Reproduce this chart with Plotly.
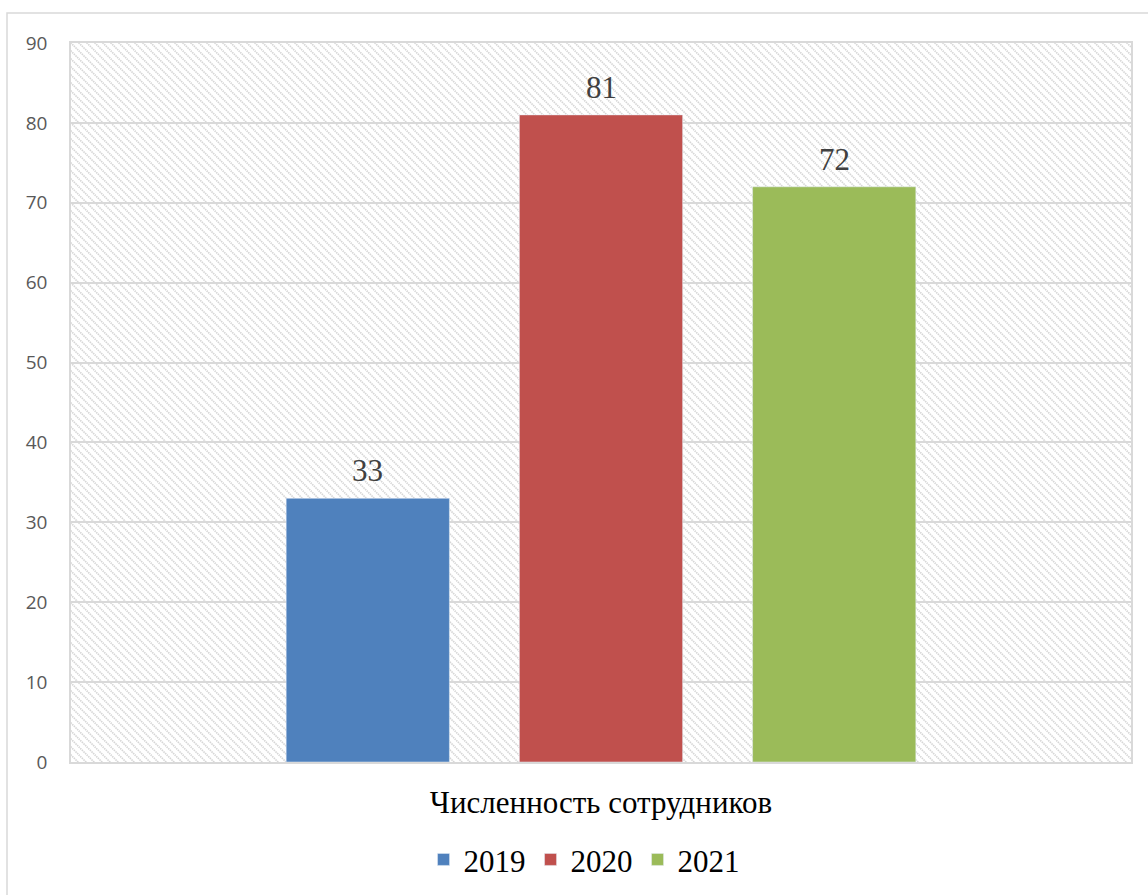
import base64
import plotly.graph_objects as go

category = ["Численность сотрудников"]
years = ["2019", "2020", "2021"]
values = [33, 81, 72]
colors = ["#4f81bd", "#c0504d", "#9bbb59"]
y_ticks = [0, 10, 20, 30, 40, 50, 60, 70, 80, 90]

W, H = 1148, 895
ml, mr, mt, mb = 71, 17, 43, 133
pw, ph = W - ml - mr, H - mt - mb
BARGAP = 0.34
slot_px = pw * (1 - BARGAP) / len(years)

svg = f'''<svg xmlns="http://www.w3.org/2000/svg" width="{pw}" height="{ph}" viewBox="0 0 {pw} {ph}" preserveAspectRatio="none">
<defs><pattern id="p" width="8" height="8" patternUnits="userSpaceOnUse">
<path d="M-2,-2 L10,10 M-2,6 L2,10 M6,-2 L10,2" stroke="#d6d6d6" stroke-width="1.7" stroke-dasharray="1.5,0.8"/>
</pattern></defs>
<rect width="{pw}" height="{ph}" fill="white"/>
<rect width="{pw}" height="{ph}" fill="url(#p)"/>
</svg>'''
uri = "data:image/svg+xml;base64," + base64.b64encode(svg.encode()).decode()

fig = go.Figure()
annotations = []
for i, (yr, v, c) in enumerate(zip(years, values, colors)):
    fig.add_trace(go.Bar(x=category, y=[v], name=yr, marker_color=c))
    annotations.append(dict(
        x=category[0], y=v, xref="x", yref="y", text=str(v), showarrow=False,
        xanchor="center", yanchor="bottom",
        xshift=(i - (len(years) - 1) / 2) * slot_px, yshift=8,
        font=dict(family="Liberation Serif", size=31, color="#404040"),
    ))

fig.update_layout(
    width=W, height=H,
    margin=dict(l=ml, r=mr, t=mt, b=mb, autoexpand=False),
    paper_bgcolor="white", plot_bgcolor="rgba(0,0,0,0)",
    barmode="group", bargap=BARGAP, bargroupgap=0.3,
    showlegend=True,
    legend=dict(orientation="h", x=0.484, xanchor="center", y=-0.136, yanchor="middle",
                font=dict(family="Liberation Serif", size=31, color="#000000"),
                itemwidth=30, traceorder="normal"),
    annotations=annotations,
    images=[dict(source=uri, xref="paper", yref="paper", x=0, y=1, sizex=1, sizey=1,
                 sizing="stretch", layer="below", xanchor="left", yanchor="top")],
    shapes=[dict(type="rect", xref="paper", yref="paper",
                 x0=(7 - ml) / pw, x1=(1160 - ml) / pw,
                 y0=(762 - 910) / ph, y1=(762 - 13) / ph,
                 line=dict(color="#d9d9d9", width=1.5), fillcolor="rgba(0,0,0,0)", layer="below")],
)
fig.update_xaxes(showline=True, linecolor="#d9d9d9", linewidth=1.5, mirror=True,
                 showgrid=False, ticks="", ticklabelstandoff=12, automargin=False,
                 tickfont=dict(family="Liberation Serif", size=31, color="#000000"))
fig.update_yaxes(range=[0, 90], tickvals=y_ticks, showline=True, linecolor="#d9d9d9",
                 linewidth=1.5, mirror=True, gridcolor="#d9d9d9", gridwidth=1.5,
                 zeroline=False, ticks="", ticklabelstandoff=18, automargin=False,
                 tickfont=dict(family="Open Sans", size=19, color="#595959"))
fig.write_html("out.html", config={"displayModeBar": False},
               post_script="document.body.style.margin='0';")
